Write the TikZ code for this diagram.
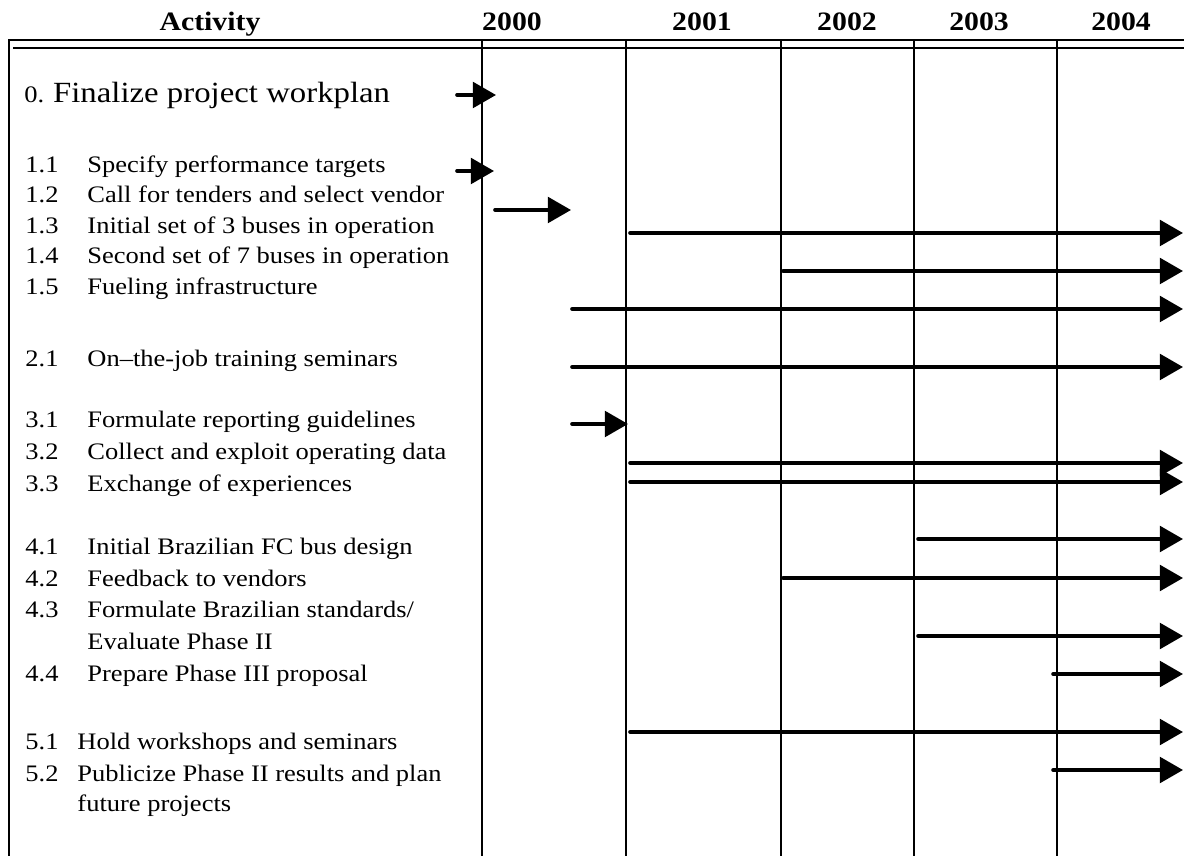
\documentclass[tikz,border=0pt]{standalone}
\usepackage{fontspec}
\setmainfont{Liberation Serif}[FakeStretch=1.12]
\usetikzlibrary{arrows.meta}

\begin{document}
\begin{tikzpicture}[
	x=0.444pt, y=-0.444pt,
	Head/.style={font=\fontsize{11.8}{14}\selectfont\bfseries, inner sep=0pt,
		text height=0.66em, text depth=0.22em},
	Item/.style={anchor=west, font=\fontsize{10.5}{14}\selectfont, inner sep=0pt,
		text height=0.66em, text depth=0.22em},
	GridLine/.style={line width=0.9pt},
	Bar/.style={line width=1.6pt, line cap=round,
		-{Triangle[length=10.3pt, width=11.4pt]}}
	]

\useasboundingbox (0,0) rectangle (1184,856);

% header
\node [Head] (act) at (210,26) {Activity};
\node [Head] (y2000) at (512,26) {2000};
\node [Head] (y2001) at (702,26) {2001};
\node [Head] (y2002) at (847,26) {2002};
\node [Head] (y2003) at (979,26) {2003};
\node [Head] (y2004) at (1121,26) {2004};

% table lines
\draw [line width=1.2pt] (9,856) -- (9,40) -- (1184,40);
\draw [line width=0.6pt] (13,48) -- (1184,48);
\foreach \x in {482,626,781,914,1057}
	\draw [GridLine] (\x,40) -- (\x,856);

% activities
\node [Item] (t0) at (24,98) {0. \fontsize{13}{16}\selectfont Finalize project workplan};
\foreach \k/\num/\xt/\y/\txt in {
	11/1.1/87/168/Specify performance targets,
	12/1.2/87/198/Call for tenders and select vendor,
	13/1.3/87/229/Initial set of 3 buses in operation,
	14/1.4/87/259/Second set of 7 buses in operation,
	15/1.5/87/290/Fueling infrastructure,
	21/2.1/87/362/On--the-job training seminars,
	31/3.1/87/423/Formulate reporting guidelines,
	32/3.2/87/455/Collect and exploit operating data,
	33/3.3/87/487/Exchange of experiences,
	41/4.1/87/550/Initial Brazilian FC bus design,
	42/4.2/87/582/Feedback to vendors,
	43/4.3/87/613/{Formulate Brazilian standards/},
	44/4.4/87/677/Prepare Phase III proposal,
	51/5.1/77/745/Hold workshops and seminars,
	52/5.2/77/777/Publicize Phase II results and plan}{
	\node [Item] (n\k) at (25,\y) {\num};
	\node [Item] (t\k) at (\xt,\y) {\txt};
}
\node [Item] (t43b) at (87,645) {Evaluate Phase II};
\node [Item] (t52b) at (77,807) {future projects};

% bars
\foreach \k/\y/\a/\b in {
	0/95/457/496, 11/171/457/494, 12/210/495/571,
	13/233/630/1183, 14/271/783/1183, 15/309/572/1183,
	21/367/572/1183,
	31/424/572/628, 32/463/630/1183, 33/482/630/1183,
	41/539/918/1183, 42/578/783/1183, 43/636/918/1183, 44/674/1053/1183,
	51/732/630/1183, 52/770/1053/1183}{
	\coordinate (s\k) at (\a,\y);
	\coordinate (e\k) at (\b,\y);
	\draw [Bar] (s\k) -- (e\k);
}

\end{tikzpicture}
\end{document}
